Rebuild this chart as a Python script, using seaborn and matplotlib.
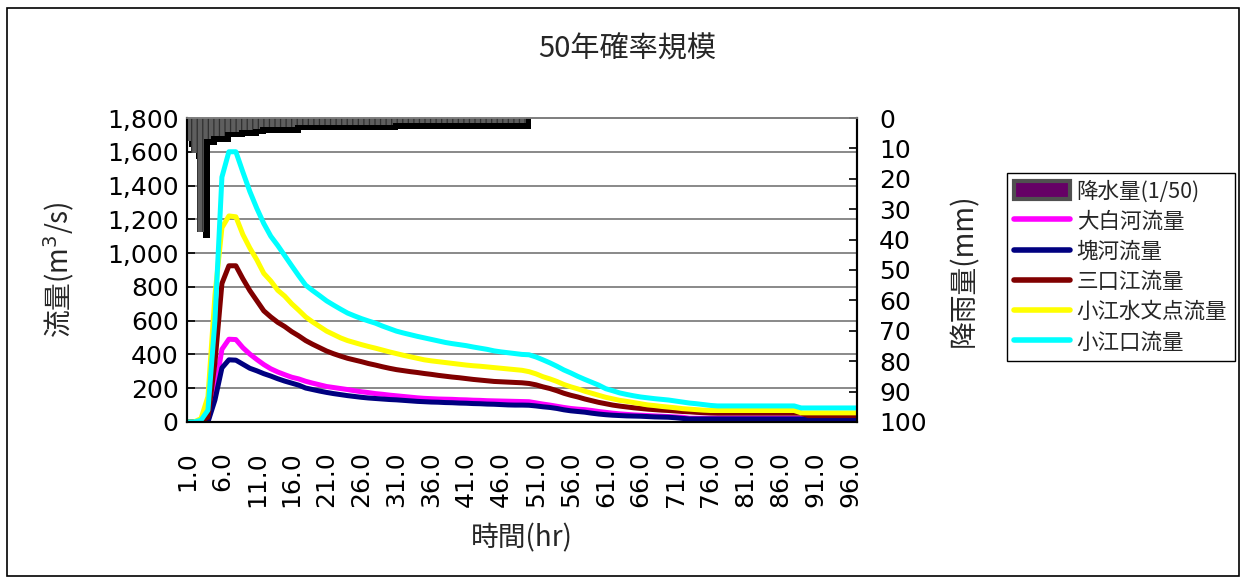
import matplotlib
matplotlib.use('Agg')
import matplotlib.pyplot as plt
import numpy as np
import pandas as pd
import seaborn as sns
from matplotlib.lines import Line2D
from matplotlib.patches import Patch, Rectangle
from matplotlib.ticker import StrMethodFormatter

# hourly time axis (hr)
hours = list(range(1, 98))

# discharge (m3/s)
daibaihe = [0, 0, 0, 5, 180, 430, 490, 488, 440, 402, 370, 340, 315, 296, 280, 265,
            255, 241, 230, 220, 210, 204, 198, 192, 185, 179, 174, 168, 164, 159,
            155, 151, 147, 143, 140, 138, 136, 135, 134, 132, 131, 129, 128, 126, 125,
            124, 123, 122, 121, 120, 113, 106, 100, 93, 86, 80, 76, 73, 68, 62,
            57, 52, 48, 45, 42, 40, 38, 36, 34, 32, 30, 28] + [22] * 25
kuaihe = [0, 0, 0, 0, 130, 320, 368, 366, 342, 318, 303, 286, 272, 256, 242, 230,
          218, 201, 192, 183, 175, 168, 162, 156, 151, 146, 142, 139, 136, 133,
          131, 128, 125, 122, 120, 118, 117, 115, 114, 112, 111, 109, 108, 106, 105,
          103, 101, 100, 100, 99, 95, 90, 86, 80, 72, 66, 62, 58, 52, 47,
          43, 40, 38, 36, 35, 34, 32, 30, 29, 28, 25, 21] + [18] * 25
sankoujiang = [0, 0, 0, 30, 350, 820, 925, 925, 848, 778, 718, 658, 622, 590, 565, 535,
               510, 482, 460, 440, 420, 404, 390, 377, 367, 357, 346, 337, 327, 318,
               310, 304, 298, 293, 287, 282, 276, 271, 266, 262, 257, 252, 248, 244, 240,
               238, 236, 234, 232, 228, 220, 208, 198, 185, 170, 158, 148, 136, 126, 116,
               108, 100, 94, 89, 84, 80, 76, 73, 70, 68, 65, 62, 60, 57, 55, 53] \
    + [52] * 13 + [38] * 8
xiaojiang_sw = [0, 0, 20, 150, 750, 1150, 1220, 1215, 1110, 1030, 960, 880, 835, 780, 745, 700,
                662, 622, 592, 565, 538, 518, 498, 482, 470, 458, 447, 437, 426, 415,
                405, 395, 386, 377, 368, 362, 357, 352, 347, 342, 337, 333, 330, 326, 322,
                318, 314, 310, 306, 298, 285, 268, 255, 240, 222, 208, 196, 182, 170, 158,
                146, 137, 128, 122, 115, 108, 101, 97, 92, 88, 84, 79, 76, 73, 70, 68] \
    + [68] * 12 + [54] * 9
xiaojiangkou = [0, 0, 10, 70, 600, 1450, 1600, 1600, 1480, 1365, 1265, 1175, 1100, 1045, 985, 925,
                866, 810, 778, 748, 717, 692, 668, 645, 628, 612, 598, 585, 568, 553,
                538, 527, 517, 507, 498, 489, 480, 471, 464, 458, 452, 444, 437, 430, 421,
                415, 410, 405, 400, 398, 385, 368, 350, 330, 308, 290, 270, 252, 235, 218,
                197, 185, 172, 163, 155, 148, 143, 138, 134, 130, 124, 118, 112, 108, 103, 98] \
    + [95] * 12 + [83] * 9

# hourly rainfall (mm), hours 1-49
rain = [7.5, 11.5, 37.5, 7.0, 6.0, 6.0, 4.5, 4.5, 4.0, 4.0, 3.5, 3.0, 3.0, 3.0, 3.0, 3.0] \
    + [2.2] * 14 + [1.7] * 19
rain_hours = list(range(1, len(rain) + 1))

series_names = ['大白河流量', '塊河流量', '三口江流量', '小江水文点流量', '小江口流量']
series_colors = ['#FF00FF', '#000080', '#800000', '#FFFF00', '#00FFFF']
tick_hours = list(range(1, 97, 5))

df = pd.DataFrame({'時間': hours,
                   '大白河流量': daibaihe,
                   '塊河流量': kuaihe,
                   '三口江流量': sankoujiang,
                   '小江水文点流量': xiaojiang_sw,
                   '小江口流量': xiaojiangkou})
df_long = df.melt(id_vars='時間', var_name='地点', value_name='流量')

sns.set_theme(style='white')
plt.rcParams['font.family'] = ['DejaVu Sans', 'Noto Sans CJK JP']
plt.rcParams['hatch.linewidth'] = 0.9
cjk = ['Noto Sans CJK JP', 'DejaVu Sans']

fig = plt.figure(figsize=(12.46, 5.79), dpi=100)
ax = fig.add_axes([0.1501, 0.2712, 0.5377, 0.525])

sns.lineplot(data=df_long, x='時間', y='流量', hue='地点', hue_order=series_names,
             palette=series_colors, linewidth=3.6, legend=False, ax=ax)

ax.set_xlim(1, 97)
ax.set_ylim(0, 1800)
ax.set_yticks(range(0, 1801, 200))
ax.yaxis.set_major_formatter(StrMethodFormatter('{x:,.0f}'))
ax.set_xticks(tick_hours)
ax.set_xticklabels(['{:.1f}'.format(h) for h in tick_hours], rotation=90)
ax.set_xticks(range(1, 97, 10), minor=True)
ax.grid(axis='y', color='#808080', linewidth=1.3)
ax.grid(axis='x', which='minor', color='#808080', linewidth=1.3)
ax.tick_params(axis='both', which='major', labelsize=18, colors='black')
ax.tick_params(axis='y', direction='in', length=6, width=1.2, left=True, pad=6)
ax.tick_params(axis='x', which='major', length=0, pad=21)
ax.tick_params(axis='x', which='minor', direction='in', length=5, width=1.2, bottom=True)
ax.set_xlabel('時間(hr)', fontsize=20, labelpad=12, family=cjk)
ax.set_ylabel('流量(m$^{3}$/s)', fontsize=20, labelpad=22, family=cjk)

# rainfall on the secondary axis, hanging from the top
ax2 = ax.twinx()
ax2.bar(np.array(rain_hours) + 0.8, np.array(rain) + 1.9, width=1.0, color='black', linewidth=0)
ax2.bar(rain_hours, rain, width=1.0, facecolor='#5e5e5e', edgecolor='#303030',
        hatch='|||', linewidth=0)
ax2.set_ylim(100, 0)
ax2.set_yticks(range(0, 101, 10))
ax2.tick_params(axis='y', direction='in', length=6, width=1.2, right=True, labelsize=18,
                colors='black', pad=16)
ax2.set_ylabel('降雨量(mm)', fontsize=20, labelpad=16, family=cjk)
ax2.grid(False)

for a in (ax, ax2):
    for side in ('left', 'right', 'bottom'):
        a.spines[side].set_color('black')
        a.spines[side].set_linewidth(1.5)
    a.spines['top'].set_color('#808080')
    a.spines['top'].set_linewidth(1.3)

fig.text(0.503, 0.915, '50年確率規模', ha='center', va='center', fontsize=21, family=cjk)

handles = [Patch(facecolor='#660066', edgecolor='#505050', linewidth=3)]
handles += [Line2D([0], [0], color=c, linewidth=4) for c in series_colors]
labels = ['降水量(1/50)'] + series_names
fig.legend(handles, labels, loc='upper left', bbox_to_anchor=(0.808, 0.702),
           frameon=True, fancybox=False, edgecolor='black', framealpha=1,
           prop={'family': cjk, 'size': 15.5}, handlelength=2.6, handleheight=0.9,
           labelspacing=0.38, handletextpad=0.3, borderpad=0.35, borderaxespad=0)

# outer chart border
fig.patches.append(Rectangle((0.006, 0.006), 0.988, 0.981, transform=fig.transFigure,
                             fill=False, edgecolor='black', linewidth=1.2))

fig.savefig('out.png', dpi=100)
